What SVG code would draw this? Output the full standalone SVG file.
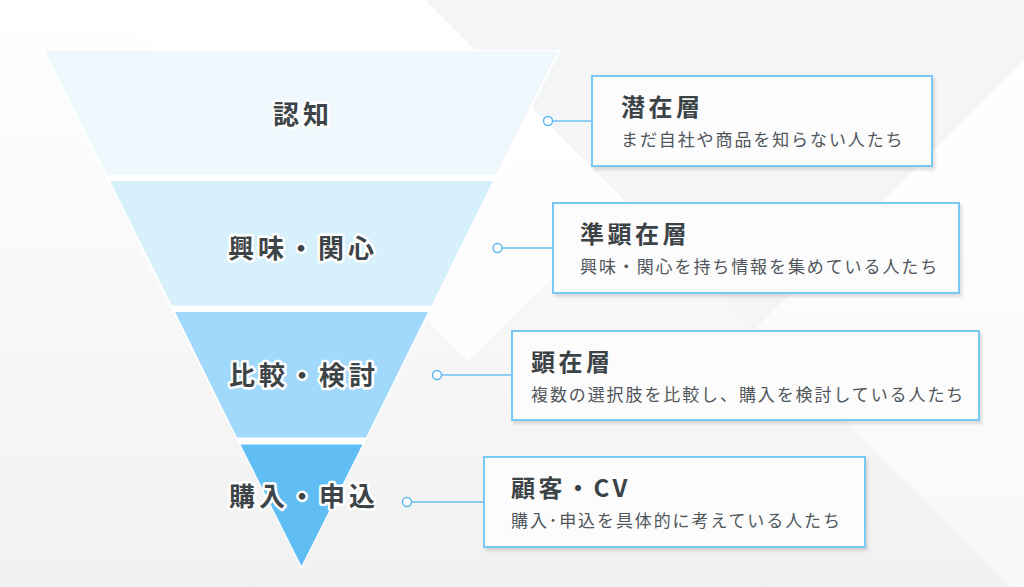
<svg xmlns="http://www.w3.org/2000/svg" width="1024" height="587" viewBox="0 0 1024 587">
  <defs>
    <linearGradient id="bg" x1="0" y1="0" x2="0" y2="1">
      <stop offset="0" stop-color="#ffffff"/>
      <stop offset="1" stop-color="#f1f1f1"/>
    </linearGradient>
    <filter id="shadow" x="-5%" y="-10%" width="115%" height="130%">
      <feDropShadow dx="2" dy="3" stdDeviation="1.5" flood-color="#000" flood-opacity="0.12"/>
    </filter>
    <style>
      .seg-label { font-family: "Noto Sans CJK JP", "Noto Sans", sans-serif; font-size: 26px; font-weight: 700; fill: #3d4548; letter-spacing: 4px; text-anchor: middle; stroke: #ffffff; stroke-width: 5px; stroke-linejoin: round; paint-order: stroke; }
      .box { fill: #fcfcfc; stroke: #79c8f3; stroke-width: 2; filter: url(#shadow); }
      .title { font-family: "Noto Sans CJK JP", "Noto Sans", sans-serif; font-size: 24px; font-weight: 700; fill: #3c4347; letter-spacing: 3.5px; }
      .sub { font-family: "Noto Sans CJK JP", "Noto Sans", sans-serif; font-size: 17px; font-weight: 400; fill: #50565b; letter-spacing: 1.9px; }
      .conn line { stroke: #6cc2f2; stroke-width: 1.5; }
      .conn circle { fill: #ffffff; stroke: #5cb9ee; stroke-width: 1.5; }
    </style>
  </defs>

  <!-- background -->
  <g id="background">
    <rect x="0" y="0" width="1024" height="587" fill="url(#bg)"/>
    <polygon points="107,0 425,0 627,202 468,361" fill="#ffffff" opacity="0.8"/>
    <polygon points="425,0 1024,0 1024,60 754,330" fill="#f4f5f6"/>
    <polygon points="1024,60 754,330 1024,600" fill="#ffffff" opacity="0.5"/>
  </g>

  <!-- funnel -->
  <g id="funnel">
    <polygon points="42,50 561,50 301.5,569" fill="#ffffff"/>
    <g id="seg-ninchi">
      <polygon points="45,51 558,51 496,175 107,175" fill="#eff8fd"/>
      <text class="seg-label" x="303" y="123.5">認知</text>
    </g>
    <g id="seg-kyomi">
      <polygon points="110,181 493,181 431.5,305.5 172,305.5" fill="#d6f0fc"/>
      <text class="seg-label" x="303" y="258">興味・関心</text>
    </g>
    <g id="seg-hikaku">
      <polygon points="175,312 428,312 366,437.5 237,437.5" fill="#a0d9fb"/>
      <text class="seg-label" x="304" y="384.5">比較・検討</text>
    </g>
    <g id="seg-konyu">
      <polygon points="240.5,444.5 362.5,444.5 301.5,566" fill="#60bef5"/>
      <text class="seg-label" x="304" y="505.5">購入・申込</text>
    </g>
  </g>

  <!-- connectors -->
  <g id="connectors" class="conn">
    <line x1="552" y1="121" x2="592" y2="121"/>
    <circle cx="548" cy="121" r="4.5"/>
    <line x1="502" y1="248" x2="553" y2="248"/>
    <circle cx="497.5" cy="248" r="4.5"/>
    <line x1="441" y1="375" x2="512" y2="375"/>
    <circle cx="437" cy="375" r="4.5"/>
    <line x1="411" y1="502" x2="484" y2="502"/>
    <circle cx="407" cy="502" r="4.5"/>
  </g>

  <!-- boxes -->
  <g id="box-senzai">
    <rect class="box" x="592" y="76" width="340" height="90"/>
    <text class="title" x="621" y="116">潜在層</text>
    <text class="sub" x="621" y="145.5">まだ自社や商品を知らない人たち</text>
  </g>
  <g id="box-junkenzai">
    <rect class="box" x="553" y="203" width="406" height="90"/>
    <text class="title" x="580" y="243">準顕在層</text>
    <text class="sub" x="580" y="272.5">興味・関心を持ち情報を集めている人たち</text>
  </g>
  <g id="box-kenzai">
    <rect class="box" x="512" y="331" width="467" height="89"/>
    <text class="title" x="531" y="371">顕在層</text>
    <text class="sub" x="531" y="400.5">複数の選択肢を比較し、購入を検討している人たち</text>
  </g>
  <g id="box-kokyaku">
    <rect class="box" x="484" y="457" width="381" height="90"/>
    <text class="title" x="511" y="497">顧客・CV</text>
    <text class="sub" x="511" y="526.5">購入･申込を具体的に考えている人たち</text>
  </g>
</svg>
